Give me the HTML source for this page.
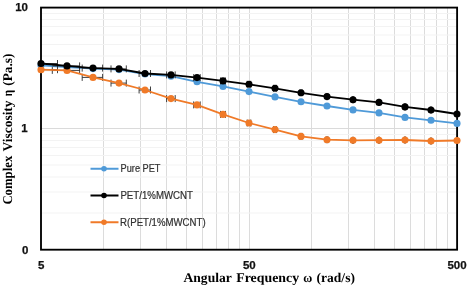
<!DOCTYPE html>
<html><head><meta charset="utf-8"><style>
html,body{margin:0;padding:0;background:#fff;width:470px;height:287px;overflow:hidden}
svg{position:absolute;left:0;top:0;display:block;filter:blur(0.45px)}
.tk{font-family:"Liberation Sans",sans-serif;font-weight:bold;font-size:11.5px;fill:#111;stroke:#111;stroke-width:0.25px}
.ti{font-family:"Liberation Serif",serif;font-weight:bold;font-size:13.4px;fill:#000;text-rendering:geometricPrecision}
.lg{font-family:"Liberation Sans",sans-serif;font-size:10px;fill:#303030;stroke:#303030;stroke-width:0.2px}
</style></head><body>
<svg width="470" height="287" viewBox="0 0 470 287">
<line x1="103.5" y1="8.0" x2="103.5" y2="249.5" stroke="#dcdcdc" stroke-width="1"/>
<line x1="140.5" y1="8.0" x2="140.5" y2="249.5" stroke="#dcdcdc" stroke-width="1"/>
<line x1="166.5" y1="8.0" x2="166.5" y2="249.5" stroke="#dcdcdc" stroke-width="1"/>
<line x1="186.5" y1="8.0" x2="186.5" y2="249.5" stroke="#dcdcdc" stroke-width="1"/>
<line x1="202.5" y1="8.0" x2="202.5" y2="249.5" stroke="#dcdcdc" stroke-width="1"/>
<line x1="216.5" y1="8.0" x2="216.5" y2="249.5" stroke="#dcdcdc" stroke-width="1"/>
<line x1="228.5" y1="8.0" x2="228.5" y2="249.5" stroke="#dcdcdc" stroke-width="1"/>
<line x1="239.5" y1="8.0" x2="239.5" y2="249.5" stroke="#dcdcdc" stroke-width="1"/>
<line x1="311.5" y1="8.0" x2="311.5" y2="249.5" stroke="#dcdcdc" stroke-width="1"/>
<line x1="348.5" y1="8.0" x2="348.5" y2="249.5" stroke="#dcdcdc" stroke-width="1"/>
<line x1="374.5" y1="8.0" x2="374.5" y2="249.5" stroke="#dcdcdc" stroke-width="1"/>
<line x1="394.5" y1="8.0" x2="394.5" y2="249.5" stroke="#dcdcdc" stroke-width="1"/>
<line x1="410.5" y1="8.0" x2="410.5" y2="249.5" stroke="#dcdcdc" stroke-width="1"/>
<line x1="424.5" y1="8.0" x2="424.5" y2="249.5" stroke="#dcdcdc" stroke-width="1"/>
<line x1="436.5" y1="8.0" x2="436.5" y2="249.5" stroke="#dcdcdc" stroke-width="1"/>
<line x1="447.5" y1="8.0" x2="447.5" y2="249.5" stroke="#dcdcdc" stroke-width="1"/>
<line x1="249.5" y1="8.0" x2="249.5" y2="249.5" stroke="#dcdcdc" stroke-width="1"/>
<line x1="41.0" y1="213.0" x2="457.0" y2="213.0" stroke="#f3f3f3" stroke-width="1"/>
<line x1="41.0" y1="192.0" x2="457.0" y2="192.0" stroke="#f3f3f3" stroke-width="1"/>
<line x1="41.0" y1="177.0" x2="457.0" y2="177.0" stroke="#f3f3f3" stroke-width="1"/>
<line x1="41.0" y1="165.0" x2="457.0" y2="165.0" stroke="#f3f3f3" stroke-width="1"/>
<line x1="41.0" y1="155.5" x2="457.0" y2="155.5" stroke="#f3f3f3" stroke-width="1"/>
<line x1="41.0" y1="147.5" x2="457.0" y2="147.5" stroke="#f3f3f3" stroke-width="1"/>
<line x1="41.0" y1="140.5" x2="457.0" y2="140.5" stroke="#f3f3f3" stroke-width="1"/>
<line x1="41.0" y1="134.5" x2="457.0" y2="134.5" stroke="#f3f3f3" stroke-width="1"/>
<line x1="41.0" y1="92.5" x2="457.0" y2="92.5" stroke="#f3f3f3" stroke-width="1"/>
<line x1="41.0" y1="71.0" x2="457.0" y2="71.0" stroke="#f3f3f3" stroke-width="1"/>
<line x1="41.0" y1="56.0" x2="457.0" y2="56.0" stroke="#f3f3f3" stroke-width="1"/>
<line x1="41.0" y1="44.5" x2="457.0" y2="44.5" stroke="#f3f3f3" stroke-width="1"/>
<line x1="41.0" y1="35.0" x2="457.0" y2="35.0" stroke="#f3f3f3" stroke-width="1"/>
<line x1="41.0" y1="26.5" x2="457.0" y2="26.5" stroke="#f3f3f3" stroke-width="1"/>
<line x1="41.0" y1="19.5" x2="457.0" y2="19.5" stroke="#f3f3f3" stroke-width="1"/>
<line x1="41.0" y1="13.5" x2="457.0" y2="13.5" stroke="#f3f3f3" stroke-width="1"/>
<line x1="41.0" y1="128.5" x2="457.0" y2="128.5" stroke="#dadada" stroke-width="1"/>
<rect x="41" y="7.6" width="416.1" height="242.1" fill="none" stroke="#000" stroke-width="1.85"/>
<polyline points="41.0,65.4 67.0,67.2 93.0,68.6 119.0,69.6 145.0,74.0 171.0,76.2 197.0,81.8 223.0,86.4 249.0,91.6 275.0,96.9 301.0,101.8 327.0,106.0 353.0,109.9 379.0,112.9 405.0,117.4 431.0,120.3 457.0,123.4" fill="none" stroke="#4f9ad8" stroke-width="1.8" stroke-linejoin="round"/>
<circle cx="41.0" cy="65.4" r="3.55" fill="#4f9ad8"/>
<circle cx="67.0" cy="67.2" r="3.55" fill="#4f9ad8"/>
<circle cx="93.0" cy="68.6" r="3.55" fill="#4f9ad8"/>
<circle cx="119.0" cy="69.6" r="3.55" fill="#4f9ad8"/>
<circle cx="145.0" cy="74.0" r="3.55" fill="#4f9ad8"/>
<circle cx="171.0" cy="76.2" r="3.55" fill="#4f9ad8"/>
<circle cx="197.0" cy="81.8" r="3.55" fill="#4f9ad8"/>
<circle cx="223.0" cy="86.4" r="3.55" fill="#4f9ad8"/>
<circle cx="249.0" cy="91.6" r="3.55" fill="#4f9ad8"/>
<circle cx="275.0" cy="96.9" r="3.55" fill="#4f9ad8"/>
<circle cx="301.0" cy="101.8" r="3.55" fill="#4f9ad8"/>
<circle cx="327.0" cy="106.0" r="3.55" fill="#4f9ad8"/>
<circle cx="353.0" cy="109.9" r="3.55" fill="#4f9ad8"/>
<circle cx="379.0" cy="112.9" r="3.55" fill="#4f9ad8"/>
<circle cx="405.0" cy="117.4" r="3.55" fill="#4f9ad8"/>
<circle cx="431.0" cy="120.3" r="3.55" fill="#4f9ad8"/>
<circle cx="457.0" cy="123.4" r="3.55" fill="#4f9ad8"/>
<path d="M41.0 69.7H57.5M57.5 66.2V73.2" stroke="#2a2a2a" stroke-width="0.9" fill="none"/>
<path d="M52.3 70.4H79.6M52.3 66.9V73.9M79.6 66.9V73.9" stroke="#2a2a2a" stroke-width="0.9" fill="none"/>
<path d="M82.2 77.4H102.6M82.2 73.9V80.9M102.6 73.9V80.9" stroke="#2a2a2a" stroke-width="0.9" fill="none"/>
<path d="M111.0 83.1H126.3M111.0 79.6V86.6M126.3 79.6V86.6" stroke="#2a2a2a" stroke-width="0.9" fill="none"/>
<path d="M139.1 90.0H150.5M139.1 86.5V93.5M150.5 86.5V93.5" stroke="#2a2a2a" stroke-width="0.9" fill="none"/>
<path d="M166.6 98.6H175.2M166.6 95.1V102.1M175.2 95.1V102.1" stroke="#2a2a2a" stroke-width="0.9" fill="none"/>
<path d="M193.7 104.9H200.2M193.7 101.4V108.4M200.2 101.4V108.4" stroke="#2a2a2a" stroke-width="0.9" fill="none"/>
<path d="M220.6 114.4H225.4M220.6 110.9V117.9M225.4 110.9V117.9" stroke="#2a2a2a" stroke-width="0.9" fill="none"/>
<path d="M247.2 123.0H250.8M247.2 119.5V126.5M250.8 119.5V126.5" stroke="#2a2a2a" stroke-width="0.9" fill="none"/>
<path d="M273.6 129.6H276.3M273.6 126.1V133.1M276.3 126.1V133.1" stroke="#2a2a2a" stroke-width="0.9" fill="none"/>
<path d="M300.0 136.4H302.0M300.0 132.9V139.9M302.0 132.9V139.9" stroke="#2a2a2a" stroke-width="0.9" fill="none"/>
<path d="M326.2 139.7H327.8M326.2 136.2V143.2M327.8 136.2V143.2" stroke="#2a2a2a" stroke-width="0.9" fill="none"/>
<path d="M352.4 140.3H353.6M352.4 136.8V143.8M353.6 136.8V143.8" stroke="#2a2a2a" stroke-width="0.9" fill="none"/>
<path d="M378.6 140.2H379.4M378.6 136.7V143.7M379.4 136.7V143.7" stroke="#2a2a2a" stroke-width="0.9" fill="none"/>
<path d="M404.7 140.0H405.3M404.7 136.5V143.5M405.3 136.5V143.5" stroke="#2a2a2a" stroke-width="0.9" fill="none"/>
<path d="M430.8 141.0H431.2M430.8 137.5V144.5M431.2 137.5V144.5" stroke="#2a2a2a" stroke-width="0.9" fill="none"/>
<path d="M456.8 140.5H457.2M456.8 137.0V144.0M457.2 137.0V144.0" stroke="#2a2a2a" stroke-width="0.9" fill="none"/>
<polyline points="41.0,69.7 67.0,70.4 93.0,77.4 119.0,83.1 145.0,90.0 171.0,98.6 197.0,104.9 223.0,114.4 249.0,123.0 275.0,129.6 301.0,136.4 327.0,139.7 353.0,140.3 379.0,140.2 405.0,140.0 431.0,141.0 457.0,140.5" fill="none" stroke="#f07a28" stroke-width="1.8" stroke-linejoin="round"/>
<circle cx="41.0" cy="69.7" r="3.55" fill="#f07a28"/>
<circle cx="67.0" cy="70.4" r="3.55" fill="#f07a28"/>
<circle cx="93.0" cy="77.4" r="3.55" fill="#f07a28"/>
<circle cx="119.0" cy="83.1" r="3.55" fill="#f07a28"/>
<circle cx="145.0" cy="90.0" r="3.55" fill="#f07a28"/>
<circle cx="171.0" cy="98.6" r="3.55" fill="#f07a28"/>
<circle cx="197.0" cy="104.9" r="3.55" fill="#f07a28"/>
<circle cx="223.0" cy="114.4" r="3.55" fill="#f07a28"/>
<circle cx="249.0" cy="123.0" r="3.55" fill="#f07a28"/>
<circle cx="275.0" cy="129.6" r="3.55" fill="#f07a28"/>
<circle cx="301.0" cy="136.4" r="3.55" fill="#f07a28"/>
<circle cx="327.0" cy="139.7" r="3.55" fill="#f07a28"/>
<circle cx="353.0" cy="140.3" r="3.55" fill="#f07a28"/>
<circle cx="379.0" cy="140.2" r="3.55" fill="#f07a28"/>
<circle cx="405.0" cy="140.0" r="3.55" fill="#f07a28"/>
<circle cx="431.0" cy="141.0" r="3.55" fill="#f07a28"/>
<circle cx="457.0" cy="140.5" r="3.55" fill="#f07a28"/>
<path d="M41.0 63.5H57.5M57.5 60.0V67.0" stroke="#2a2a2a" stroke-width="0.9" fill="none"/>
<path d="M52.3 65.9H79.6M79.6 62.4V69.4" stroke="#2a2a2a" stroke-width="0.9" fill="none"/>
<path d="M82.2 68.1H102.6M82.2 64.6V71.6M102.6 64.6V71.6" stroke="#2a2a2a" stroke-width="0.9" fill="none"/>
<path d="M111.0 68.9H126.3M111.0 65.4V72.4M126.3 65.4V72.4" stroke="#2a2a2a" stroke-width="0.9" fill="none"/>
<path d="M139.1 73.5H150.5M139.1 70.0V77.0M150.5 70.0V77.0" stroke="#2a2a2a" stroke-width="0.9" fill="none"/>
<path d="M166.6 74.9H175.2M166.6 71.4V78.4M175.2 71.4V78.4" stroke="#2a2a2a" stroke-width="0.9" fill="none"/>
<path d="M193.7 77.6H200.2M193.7 74.1V81.1M200.2 74.1V81.1" stroke="#2a2a2a" stroke-width="0.9" fill="none"/>
<path d="M220.6 80.9H225.4M220.6 77.4V84.4M225.4 77.4V84.4" stroke="#2a2a2a" stroke-width="0.9" fill="none"/>
<path d="M247.2 84.3H250.8M247.2 80.8V87.8M250.8 80.8V87.8" stroke="#2a2a2a" stroke-width="0.9" fill="none"/>
<path d="M273.6 88.3H276.3M273.6 84.8V91.8M276.3 84.8V91.8" stroke="#2a2a2a" stroke-width="0.9" fill="none"/>
<path d="M300.0 92.8H302.0M300.0 89.3V96.3M302.0 89.3V96.3" stroke="#2a2a2a" stroke-width="0.9" fill="none"/>
<path d="M326.2 96.6H327.8M326.2 93.1V100.1M327.8 93.1V100.1" stroke="#2a2a2a" stroke-width="0.9" fill="none"/>
<path d="M352.4 99.7H353.6M352.4 96.2V103.2M353.6 96.2V103.2" stroke="#2a2a2a" stroke-width="0.9" fill="none"/>
<path d="M378.6 102.4H379.4M378.6 98.9V105.9M379.4 98.9V105.9" stroke="#2a2a2a" stroke-width="0.9" fill="none"/>
<path d="M404.7 106.9H405.3M404.7 103.4V110.4M405.3 103.4V110.4" stroke="#2a2a2a" stroke-width="0.9" fill="none"/>
<path d="M430.8 110.0H431.2M430.8 106.5V113.5M431.2 106.5V113.5" stroke="#2a2a2a" stroke-width="0.9" fill="none"/>
<path d="M456.8 114.0H457.2M456.8 110.5V117.5M457.2 110.5V117.5" stroke="#2a2a2a" stroke-width="0.9" fill="none"/>
<polyline points="41.0,63.5 67.0,65.9 93.0,68.1 119.0,68.9 145.0,73.5 171.0,74.9 197.0,77.6 223.0,80.9 249.0,84.3 275.0,88.3 301.0,92.8 327.0,96.6 353.0,99.7 379.0,102.4 405.0,106.9 431.0,110.0 457.0,114.0" fill="none" stroke="#000" stroke-width="1.8" stroke-linejoin="round"/>
<circle cx="41.0" cy="63.5" r="3.55" fill="#000"/>
<circle cx="67.0" cy="65.9" r="3.55" fill="#000"/>
<circle cx="93.0" cy="68.1" r="3.55" fill="#000"/>
<circle cx="119.0" cy="68.9" r="3.55" fill="#000"/>
<circle cx="145.0" cy="73.5" r="3.55" fill="#000"/>
<circle cx="171.0" cy="74.9" r="3.55" fill="#000"/>
<circle cx="197.0" cy="77.6" r="3.55" fill="#000"/>
<circle cx="223.0" cy="80.9" r="3.55" fill="#000"/>
<circle cx="249.0" cy="84.3" r="3.55" fill="#000"/>
<circle cx="275.0" cy="88.3" r="3.55" fill="#000"/>
<circle cx="301.0" cy="92.8" r="3.55" fill="#000"/>
<circle cx="327.0" cy="96.6" r="3.55" fill="#000"/>
<circle cx="353.0" cy="99.7" r="3.55" fill="#000"/>
<circle cx="379.0" cy="102.4" r="3.55" fill="#000"/>
<circle cx="405.0" cy="106.9" r="3.55" fill="#000"/>
<circle cx="431.0" cy="110.0" r="3.55" fill="#000"/>
<circle cx="457.0" cy="114.0" r="3.55" fill="#000"/>
<line x1="90.5" y1="168.75" x2="118.5" y2="168.75" stroke="#4f9ad8" stroke-width="2"/>
<circle cx="104" cy="168.75" r="2.8" fill="#4f9ad8"/>
<text x="120.60000000000001" y="172.05" class="lg" textLength="39.9" lengthAdjust="spacingAndGlyphs">Pure PET</text>
<line x1="90.5" y1="195.5" x2="118.5" y2="195.5" stroke="#000" stroke-width="2"/>
<circle cx="104" cy="195.5" r="2.8" fill="#000"/>
<text x="120.4" y="198.80" class="lg" textLength="72.6" lengthAdjust="spacingAndGlyphs">PET/1%MWCNT</text>
<line x1="90.5" y1="222.25" x2="118.5" y2="222.25" stroke="#f07a28" stroke-width="2"/>
<circle cx="104" cy="222.25" r="2.8" fill="#f07a28"/>
<text x="120.10000000000001" y="225.55" class="lg" textLength="85.5" lengthAdjust="spacingAndGlyphs">R(PET/1%MWCNT)</text>
<text x="28.0" y="11.3" class="tk" text-anchor="end">10</text>
<text x="27.7" y="132.4" class="tk" text-anchor="end">1</text>
<text x="28.3" y="254" class="tk" text-anchor="end">0</text>
<text x="41.3" y="268.8" class="tk" text-anchor="middle">5</text>
<text x="249.3" y="268.8" class="tk" text-anchor="middle">50</text>
<text x="457" y="268.8" class="tk" text-anchor="middle">500</text>
<text y="281.6" class="ti"><tspan x="183.5" textLength="48.1" lengthAdjust="spacingAndGlyphs">Angular</tspan> <tspan x="236.2" textLength="62.9" lengthAdjust="spacingAndGlyphs">Frequency</tspan> <tspan x="303.2" textLength="9.0" lengthAdjust="spacingAndGlyphs">ω</tspan> <tspan x="316.6" textLength="38.3" lengthAdjust="spacingAndGlyphs">(rad/s)</tspan></text>
<text transform="translate(12.1 204.6) rotate(-90)" y="0" class="ti"><tspan x="0" textLength="48.9" lengthAdjust="spacingAndGlyphs">Complex</tspan> <tspan x="53.1" textLength="51.1" lengthAdjust="spacingAndGlyphs">Viscosity</tspan> <tspan x="108.4" textLength="6.3" lengthAdjust="spacingAndGlyphs">η</tspan> <tspan x="118.8" textLength="32.2" lengthAdjust="spacingAndGlyphs">(Pa.s)</tspan></text>
</svg>
</body></html>
